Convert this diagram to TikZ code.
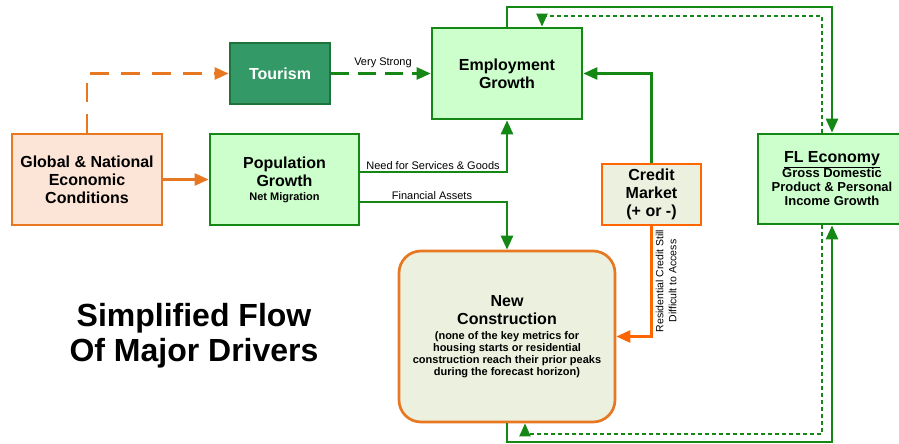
\documentclass[tikz,border=0pt]{standalone}
\usepackage{fontspec}
\setmainfont{Liberation Sans}
\usetikzlibrary{arrows.meta,calc}
\definecolor{gline}{RGB}{20,135,20}
\definecolor{gfill}{RGB}{204,255,204}
\definecolor{tfill}{RGB}{51,153,102}
\definecolor{tline}{RGB}{30,115,60}
\definecolor{oline}{RGB}{232,119,34}
\definecolor{cline}{RGB}{255,102,0}
\definecolor{pfill}{RGB}{252,228,214}
\definecolor{nfill}{RGB}{235,241,222}
\tikzset{
  box/.style={draw, line width=2.7pt, align=center, inner sep=2pt, font=\bfseries\fontsize{16}{18}\selectfont},
  gbox/.style={box, draw=gline, fill=gfill},
  gcon/.style={draw=gline, line width=2.6pt, -{Triangle[length=14pt,width=12pt]}},
  ocon/.style={draw=oline, line width=2.6pt, -{Triangle[length=14pt,width=12pt]}},
  gdot/.style={draw=gline, line width=2.1pt, dash pattern=on 4pt off 3pt, -{Triangle[length=13pt,width=11pt]}},
  lbl/.style={font=\fontsize{11}{13}\selectfont, inner sep=1pt},
}
\begin{document}
\begin{tikzpicture}[x=1pt,y=-1pt]
\useasboundingbox (0,0) rectangle (899,444);
% nodes
\node[box, draw=oline, fill=pfill, minimum width=150pt, minimum height=91pt] (glob) at (87,179.5)
  {Global \& National\\Economic\\Conditions};
\node[gbox, minimum width=149pt, minimum height=91pt] (pop) at (284.5,179.5)
  {Population\\Growth\\[-4pt]{\fontsize{11}{12}\selectfont Net Migration}};
\node[box, draw=tline, fill=tfill, text=white, minimum width=100pt, minimum height=61pt] (tour) at (280,73.5)
  {Tourism};
\node[gbox, minimum width=150pt, minimum height=91pt] (emp) at (507,73.5)
  {Employment\\Growth};
\node[box, draw=cline, fill=nfill, minimum width=99pt, minimum height=61pt] (credit) at (651.5,194.5)
  {Credit\\Market\\(+ or -)};
\node[gbox, minimum width=148pt, minimum height=90pt] (fl) at (832,179)
  {\underline{FL Economy}\\[-3pt]{\fontsize{13}{14}\selectfont Gross Domestic}\\[-4pt]{\fontsize{13}{14}\selectfont Product \& Personal}\\[-4pt]{\fontsize{13}{14}\selectfont Income Growth}};
\node[box, draw=oline, fill=nfill, rounded corners=22pt, minimum width=216pt, minimum height=171pt] (nc) at (507,336.5)
  {New\\Construction\\[-3pt]{\fontsize{11}{12}\selectfont (none of the key metrics for}\\[-6pt]{\fontsize{11}{12}\selectfont housing starts or residential}\\[-6pt]{\fontsize{11}{12}\selectfont construction reach their prior peaks}\\[-6pt]{\fontsize{11}{12}\selectfont during the forecast horizon)}};
\node[font=\bfseries\fontsize{32}{35}\selectfont, align=center] (title) at (194,336)
  {Simplified Flow\\Of Major Drivers};
% coordinates
\coordinate (topA) at (832,7);
\coordinate (topB) at (542,16);
\coordinate (botA) at (832,442);
\coordinate (botB) at (525,434);
% connectors
\draw[ocon, dash pattern=on 19pt off 12pt] (glob.north) |- (tour.west);
\draw[ocon] (glob.east) -- (pop.west);
\draw[gcon, dash pattern=on 18pt off 9pt] (tour.east) -- (emp.west);
\node[lbl] (vs) at (383,63) {Very Strong};
\draw[gcon] ([yshift=7.5pt]pop.east) -| (emp.south);
\node[lbl] (ns) at (433,166) {Need for Services \& Goods};
\draw[gcon] ([yshift=-22.5pt]pop.east) -| (nc.north);
\node[lbl] (fa) at (432,196) {Financial Assets};
\draw[gcon] (credit.north) |- (emp.east);
\draw[draw=cline, line width=2.6pt, -{Triangle[length=14pt,width=12pt]}] (credit.south) |- (nc.east);
\node[lbl, rotate=90, align=center, font=\fontsize{10.5}{13}\selectfont] (rc) at (666,281)
  {Residential Credit Still\\Difficult to Access};
\draw[gcon] (emp.north) |- (topA) -- (fl.north);
\draw[gdot] ([xshift=-10pt]fl.north) |- (topB) -- ([xshift=35pt]emp.north);
\draw[gcon] (nc.south) |- (botA) -- (fl.south);
\draw[gdot] ([xshift=-10pt]fl.south) |- (botB) -- ([xshift=18pt]nc.south);
\end{tikzpicture}
\end{document}
